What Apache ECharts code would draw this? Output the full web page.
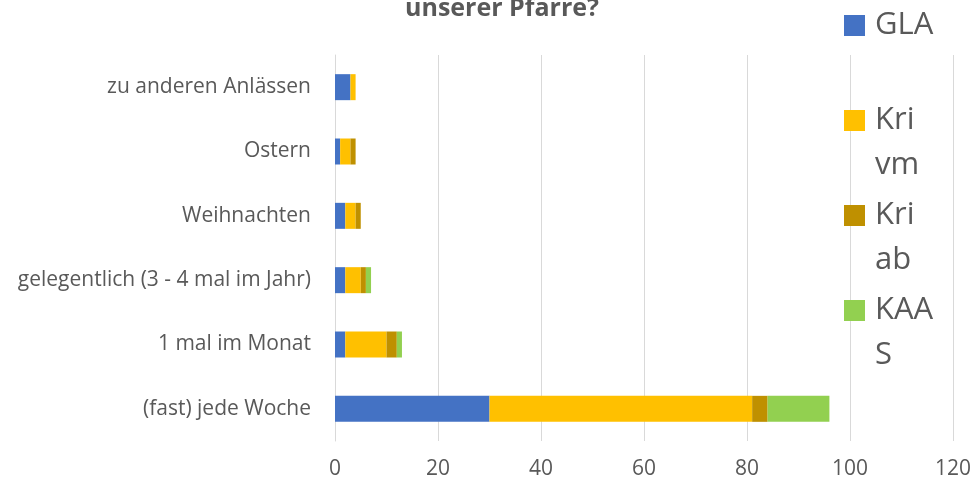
<!DOCTYPE html>
<html>
<head>
<meta charset="utf-8">
<script src="https://cdn.jsdelivr.net/npm/echarts@6/dist/echarts.min.js"></script>
<style>
  html, body { margin: 0; padding: 0; background: #fff; }
  #chart { width: 977px; height: 484px; }
</style>
</head>
<body>
<div id="chart"></div>
<script>
var categories = ['(fast) jede Woche', '1 mal im Monat', 'gelegentlich (3 - 4 mal im Jahr)', 'Weihnachten', 'Ostern', 'zu anderen Anlässen'];
var seriesNames = ['GLA', 'Kri vm', 'Kri ab', 'KAAS'];
var gla   = [30, 2, 2, 2, 1, 3];
var kriVm = [51, 8, 3, 2, 2, 1];
var kriAb = [3, 2, 1, 1, 1, 0];
var kaas  = [12, 1, 1, 0, 0, 0];
var colors = ['#4472C4', '#FFC000', '#BF9000', '#92D050'];
// wrapped legend text; a blank first line keeps the icon level with "Kri"
var legendLabels = { 'GLA': ['GLA'], 'Kri vm': [' ', 'Kri', 'vm'], 'Kri ab': [' ', 'Kri', 'ab'], 'KAAS': [' ', 'KAA', 'S'] };

var font = '"Open Sans", sans-serif';
var chart = echarts.init(document.getElementById('chart'));

var legendTops = [10, 60, 155, 250];
var legends = seriesNames.map(function (name, i) {
    return {
        data: [name],
        orient: 'vertical',
        left: 844,
        top: legendTops[i],
        padding: 0,
        icon: 'rect',
        itemWidth: 21,
        itemHeight: 21,
        itemGap: 0,
        selectedMode: false,
        formatter: function (n) {
            return legendLabels[n].map(function (s) { return '{t|' + s + '}'; }).join('\n');
        },
        textStyle: {
            rich: {
                t: {
                    fontFamily: font,
                    fontSize: 31,
                    lineHeight: 45,
                    color: '#595959',
                    padding: [0, 0, 0, 5]
                }
            }
        }
    };
});

var seriesData = [gla, kriVm, kriAb, kaas];
chart.setOption({
    animation: false,
    color: colors,
    title: {
        text: 'unserer Pfarre?',
        left: 497,
        textAlign: 'center',
        top: -9,
        textStyle: { fontFamily: font, fontSize: 25, fontWeight: 'bold', color: '#595959' }
    },
    legend: legends,
    grid: { left: 335, right: 24, top: 55, bottom: 43 },
    xAxis: {
        type: 'value',
        min: 0,
        max: 120,
        interval: 20,
        axisLine: { show: false },
        axisTick: { show: false },
        axisLabel: { fontFamily: font, fontSize: 21, color: '#595959', margin: 18 },
        splitLine: { lineStyle: { color: '#D9D9D9', width: 1 } }
    },
    yAxis: {
        type: 'category',
        data: categories,
        axisLine: { show: true, lineStyle: { color: '#D9D9D9' } },
        axisTick: { show: false },
        axisLabel: { fontFamily: font, fontSize: 21, color: '#595959', margin: 24 }
    },
    series: seriesNames.map(function (name, i) {
        return {
            name: name,
            type: 'bar',
            stack: 'total',
            barWidth: 26,
            data: seriesData[i]
        };
    })
});
</script>
</body>
</html>
